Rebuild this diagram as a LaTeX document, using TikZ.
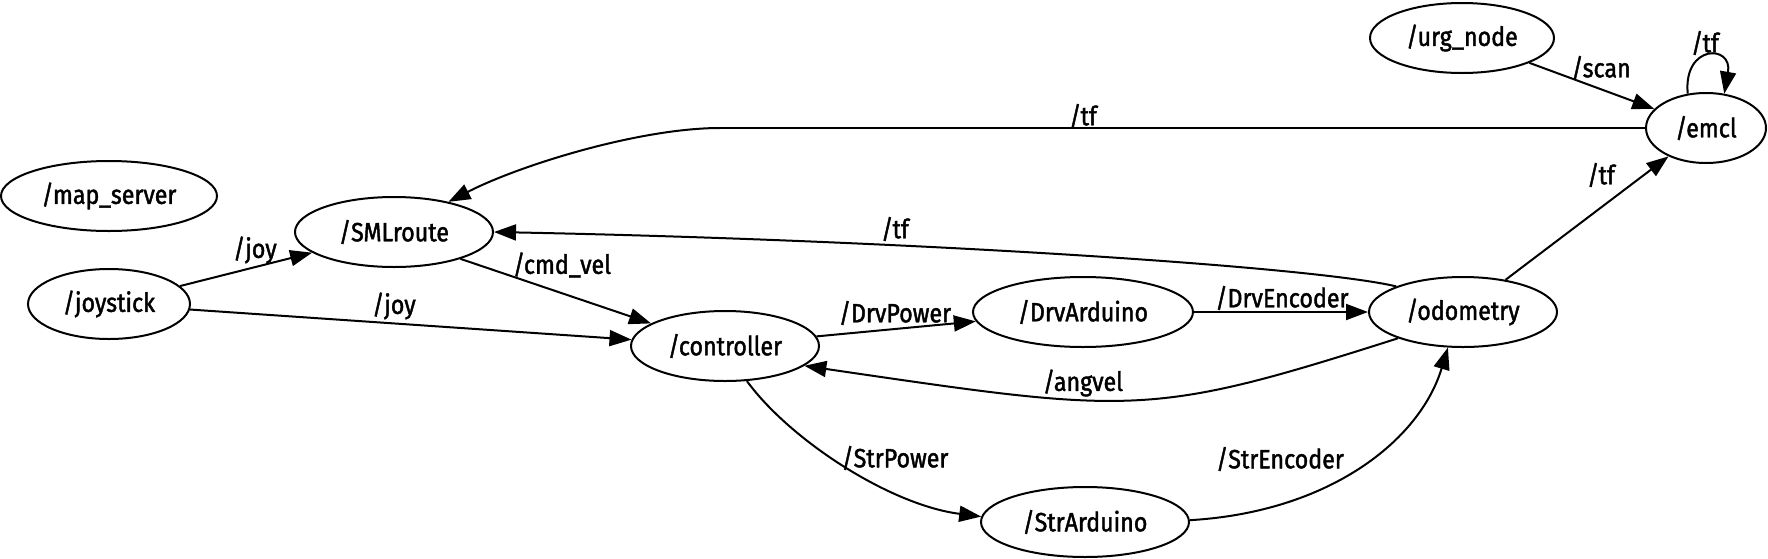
\documentclass[tikz,border=0pt]{standalone}
\usepackage{fontspec}
\setmainfont{Fira Sans}[FakeStretch=0.88,FakeBold=1.6]
\usetikzlibrary{shapes.geometric,arrows.meta}
\begin{document}
\begin{tikzpicture}[x=0.5pt,y=-0.5pt,
  nd/.style={draw,ellipse,line width=1pt,inner sep=0pt,font=\fontsize{13.2}{15}\selectfont,minimum height=35pt},
  edge/.style={line width=1pt,-{Triangle[length=11pt,width=8pt]}},
  plain/.style={line width=1pt},
  lab/.style={inner sep=0pt,font=\fontsize{13.2}{15}\selectfont}]
\useasboundingbox (0,0) rectangle (1768,558);
% nodes
\node[nd,minimum width=108pt] (map) at (109,196) {/map\_server};
\node[nd,minimum width=99pt] (sml) at (394,232) {/SMLroute};
\node[nd,minimum width=81pt] (joy) at (109,304) {/joystick};
\node[nd,minimum width=94pt] (ctrl) at (725,346) {/controller};
\node[nd,minimum width=110pt] (drv) at (1083,312) {/DrvArduino};
\node[nd,minimum width=94pt] (odo) at (1463,312) {/odometry};
\node[nd,minimum width=92pt] (urg) at (1462,38) {/urg\_node};
\node[nd,minimum width=60pt] (emcl) at (1706,128) {/emcl};
\node[nd,minimum width=104pt] (str) at (1085,522) {/StrArduino};
\coordinate (bend) at (720,128);
% edges
\draw[edge] (joy) -- (sml);
\draw[edge] (joy) -- (ctrl);
\draw[edge] (sml.-22) -- (ctrl.163);
\draw[edge] (ctrl.6) -- (drv.185);
\draw[edge] (drv.east) -- (odo.west);
\draw[edge] (odo.202) .. controls (1148,418) and (1134,414) .. (ctrl.-14);
\draw[edge] (odo.159) .. controls (1310,266) and (900,240) .. (sml.east);
\draw[plain] (emcl.west) -- (bend);
\draw[edge] (bend) .. controls (640,128) and (520,165) .. (sml.29);
\draw[edge] (urg) -- (emcl);
\draw[edge] (emcl.118) .. controls (1683,44) and (1733,44) .. (emcl.62);
\draw[edge] (odo) -- (emcl);
\draw[edge] (ctrl.-58) .. controls (790,440) and (890,505) .. (str.177);
\draw[edge] (str.1) .. controls (1330,512) and (1420,440) .. (odo.-113);
% labels
\node[lab] (l1) at (255,250) {/joy};
\node[lab] (l2) at (394,306) {/joy};
\node[lab] (l3) at (562,265) {/cmd\_vel};
\node[lab] (l4) at (895,313) {/DrvPower};
\node[lab] (l5) at (1282,298) {/DrvEncoder};
\node[lab] (l6) at (1083,383) {/angvel};
\node[lab] (l7) at (895,229) {/tf};
\node[lab] (l8) at (1083,116) {/tf};
\node[lab] (l9) at (1601,68) {/scan};
\node[lab] (l10) at (1705,43) {/tf};
\node[lab] (l11) at (1601,175) {/tf};
\node[lab] (l12) at (895,458) {/StrPower};
\node[lab] (l13) at (1280,459) {/StrEncoder};
\end{tikzpicture}
\end{document}
